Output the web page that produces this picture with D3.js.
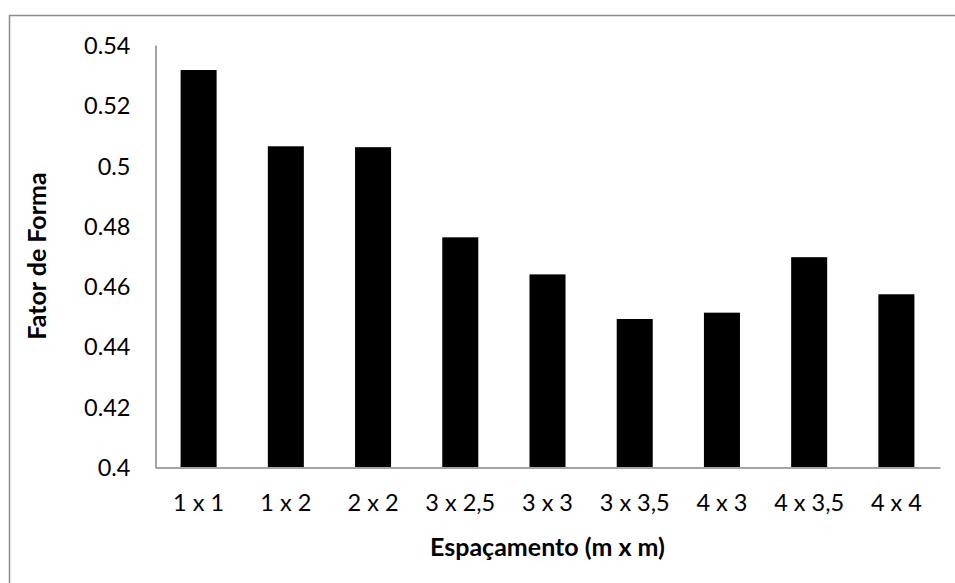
<!DOCTYPE html>
<html>
<head>
<meta charset="utf-8">
<script src="https://cdn.jsdelivr.net/npm/d3@7/dist/d3.min.js"></script>
<style>
  html, body { margin: 0; padding: 0; background: #fff; }
  svg { display: block; }
  text { font-family: Lato, "Open Sans", sans-serif; fill: #000; }
</style>
</head>
<body>
<svg id="chart" width="955" height="583"></svg>
<script>
// Espaçamentos (m x m) e fator de forma médio
const categories = ["1 x 1", "1 x 2", "2 x 2", "3 x 2,5", "3 x 3", "3 x 3,5", "4 x 3", "4 x 3,5", "4 x 4"];
const values = [0.5317, 0.5064, 0.5061, 0.4762, 0.4639, 0.4491, 0.4512, 0.4696, 0.4573];
const yTicks = [0.4, 0.42, 0.44, 0.46, 0.48, 0.5, 0.52, 0.54];
const xTitle = "Espaçamento (m x m)";
const yTitle = "Fator de Forma";

const svg = d3.select("#chart");
const plot = { left: 155, right: 940, top: 45, bottom: 467 };
const axisColor = "#868686";

// outer chart frame
svg.append("rect")
  .attr("x", 9.5).attr("y", 15.5)
  .attr("width", 1000).attr("height", 1000)
  .attr("fill", "none")
  .attr("stroke", "#8c8c8c")
  .attr("stroke-width", 1.5);

const x = d3.scaleBand()
  .domain(categories)
  .range([plot.left, plot.right])
  .paddingInner(0.587)
  .paddingOuter(0.2935);

const y = d3.scaleLinear()
  .domain([0.4, 0.54])
  .range([plot.bottom, plot.top]);

// bars
svg.append("g")
  .selectAll("rect")
  .data(values)
  .join("rect")
  .attr("x", (d, i) => x(categories[i]))
  .attr("y", d => y(d))
  .attr("width", x.bandwidth())
  .attr("height", d => y(0.4) - y(d))
  .attr("fill", "#000");

// y axis
const yAxis = svg.append("g")
  .attr("transform", `translate(${plot.left + 0.5},0)`)
  .call(d3.axisLeft(y).tickValues(yTicks).tickSize(0).tickPadding(25)
    .tickFormat(d => d3.format("")(+d.toFixed(2))));
yAxis.select(".domain").attr("stroke", axisColor).attr("stroke-width", 1.5);
yAxis.selectAll("text")
  .style("font-size", "23.5px")
  .attr("dy", "0.36em");

// x axis
const xAxis = svg.append("g")
  .attr("transform", `translate(0,${plot.bottom + 0.5})`)
  .call(d3.axisBottom(x).tickSize(0).tickPadding(27));
xAxis.select(".domain").attr("stroke", axisColor).attr("stroke-width", 1.5);
xAxis.selectAll("text")
  .style("font-size", "23.5px");

// axis titles
svg.append("text")
  .attr("x", (plot.left + plot.right) / 2)
  .attr("y", 556)
  .attr("text-anchor", "middle")
  .style("font-size", "25px")
  .style("font-weight", "bold")
  .text(xTitle);

svg.append("text")
  .attr("transform", `translate(46,${(plot.top + plot.bottom) / 2}) rotate(-90)`)
  .attr("text-anchor", "middle")
  .style("font-size", "25px")
  .style("font-weight", "bold")
  .text(yTitle);
</script>
</body>
</html>
